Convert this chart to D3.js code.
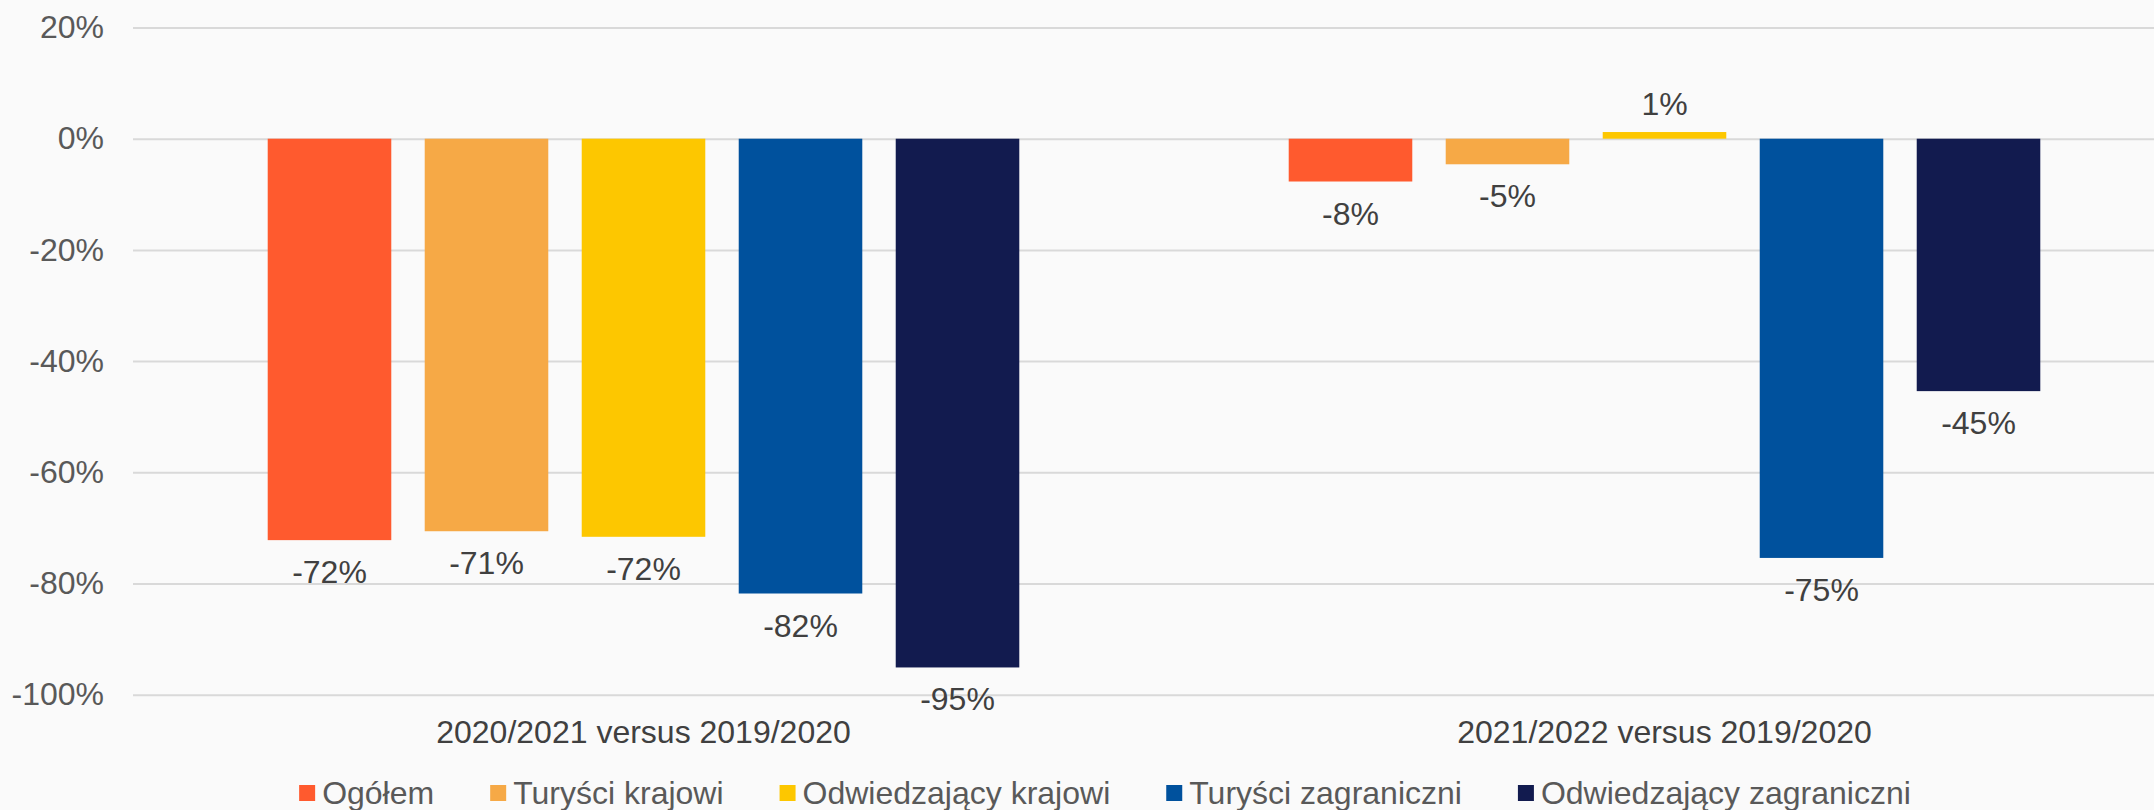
<!DOCTYPE html>
<html>
<head>
<meta charset="utf-8">
<script src="https://cdn.jsdelivr.net/npm/d3@7"></script>
<style>
  html, body { margin: 0; padding: 0; background: #fafafa; }
  svg { display: block; font-family: "Liberation Sans", Arial, sans-serif; }
</style>
</head>
<body>
<div id="chart"></div>
<script>
// Chart data
const groups = ["2020/2021 versus 2019/2020", "2021/2022 versus 2019/2020"];
const seriesNames = ["Ogółem", "Turyści krajowi", "Odwiedzający krajowi", "Turyści zagraniczni", "Odwiedzający zagraniczni"];
const seriesColors = ["#ff5a2e", "#f6a946", "#fdc700", "#00519d", "#121b4f"];
const values2021 = [-72.2, -70.6, -71.6, -81.8, -95.1];
const values2022 = [-7.7, -4.6, 1.2, -75.4, -45.4];
const yTicks = [20, 0, -20, -40, -60, -80, -100];

const width = 2154, height = 810;
const plotLeft = 133, plotRight = 2175;
const fontSize = "32px";

const rows = [values2021, values2022].map((vals, gi) =>
    vals.map((v, si) => ({ group: groups[gi], series: seriesNames[si], color: seriesColors[si], value: v }))
);

const svg = d3.select("#chart").append("svg")
    .attr("width", width)
    .attr("height", height);

svg.append("rect").attr("width", width).attr("height", height).attr("fill", "#fafafa");

const y = d3.scaleLinear().domain([-100, 20]).range([694.7, 27.5]);

const x0 = d3.scaleBand().domain(groups).range([plotLeft, plotRight]);
const x1 = d3.scaleBand().domain(seriesNames)
    .range([0, x0.bandwidth()])
    .paddingInner(0.213)
    .paddingOuter(0.858);

// Gridlines + y labels
const yAxis = svg.append("g")
    .attr("transform", `translate(${plotLeft},0)`)
    .call(d3.axisLeft(y)
        .tickValues(yTicks)
        .tickSize(-(width - plotLeft))
        .tickPadding(29)
        .tickFormat(d => d + "%"));
yAxis.select(".domain").remove();
yAxis.selectAll(".tick line").attr("stroke", "#d9d9d9").attr("stroke-width", 2);
yAxis.selectAll(".tick text")
    .attr("fill", "#595959")
    .style("font-size", fontSize)
    .style("font-family", "'Liberation Sans', Arial, sans-serif");

// Bars
const groupG = svg.append("g").selectAll("g")
    .data(rows)
    .enter().append("g")
    .attr("transform", d => `translate(${x0(d[0].group)},0)`);

groupG.selectAll("rect")
    .data(d => d)
    .enter().append("rect")
    .attr("x", d => x1(d.series))
    .attr("width", x1.bandwidth())
    .attr("y", d => y(Math.max(0, d.value)))
    .attr("height", d => Math.abs(y(d.value) - y(0)))
    .attr("fill", d => d.color);

// Data labels
groupG.selectAll("text")
    .data(d => d)
    .enter().append("text")
    .attr("x", d => x1(d.series) + x1.bandwidth() / 2)
    .attr("y", d => d.value < 0 ? y(d.value) + 43 : y(d.value) - 17)
    .attr("text-anchor", "middle")
    .attr("fill", "#404040")
    .style("font-size", fontSize)
    .text(d => Math.round(d.value) + "%");

// Category axis
const xAxis = svg.append("g")
    .attr("transform", `translate(0,${y(-100)})`)
    .call(d3.axisBottom(x0).tickSize(0).tickPadding(26));
xAxis.select(".domain").remove();
xAxis.selectAll(".tick text")
    .attr("fill", "#404040")
    .style("font-size", fontSize)
    .style("font-family", "'Liberation Sans', Arial, sans-serif");

// Legend
const legend = svg.append("g");
const legendY = 793;
const items = legend.selectAll("g")
    .data(seriesNames)
    .enter().append("g");
items.append("rect")
    .attr("width", 16).attr("height", 16)
    .attr("y", legendY - 8)
    .attr("fill", (d, i) => seriesColors[i]);
items.append("text")
    .attr("x", 23)
    .attr("y", legendY)
    .attr("dy", "0.35em")
    .attr("fill", "#595959")
    .style("font-size", fontSize)
    .text(d => d);

let cursor = 0;
const positions = [];
items.each(function () {
    const w = this.getBBox().width;
    positions.push(cursor);
    cursor += w + 56;
});
const totalW = cursor - 56;
const startX = 1105 - totalW / 2;
items.attr("transform", (d, i) => `translate(${startX + positions[i]},0)`);
</script>
</body>
</html>
